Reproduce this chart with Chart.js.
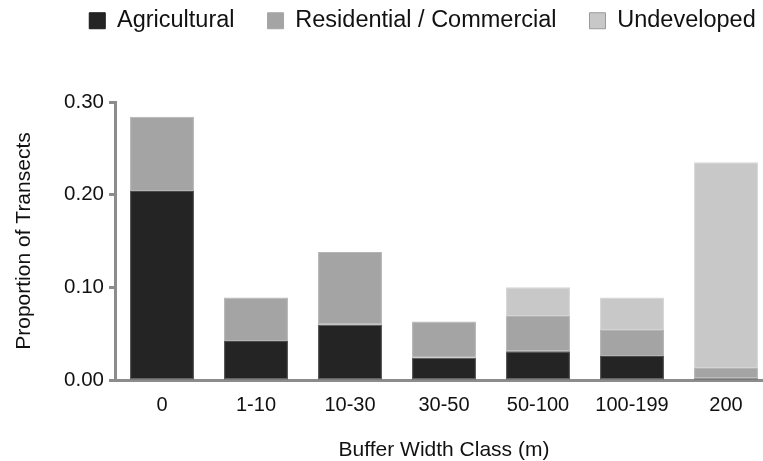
<!DOCTYPE html>
<html>
<head>
<meta charset="utf-8">
<script src="https://cdn.jsdelivr.net/npm/chart.js@4.4.1/dist/chart.umd.min.js"></script>
<style>
  html, body { margin: 0; padding: 0; background: #fff; overflow: hidden; width: 763px; height: 461px; }
  #wrap { width: 773px; height: 461px; }
  canvas { display: block; }
</style>
</head>
<body>
<div id="wrap"><canvas id="c" width="773" height="461"></canvas></div>
<script>
// Buffer width classes (m)
const categories = ['0', '1-10', '10-30', '30-50', '50-100', '100-199', '200'];

// Proportion of transects in each land-use class
const agricultural = [0.204, 0.042, 0.060, 0.024, 0.031, 0.026, 0.002];
const residentialCommercial = [0.080, 0.047, 0.078, 0.039, 0.038, 0.028, 0.011];
const undeveloped = [0.000, 0.000, 0.000, 0.000, 0.031, 0.035, 0.222];

const yTicks = [0.00, 0.10, 0.20, 0.30];

const FONT = "'Liberation Sans', Arial, Helvetica, sans-serif";
const AXIS_GREY = '#8c8c8c';
const TEXT = '#111111';

// Places the legend row near the top of the figure and reserves the space above the plot
const legendPlacement = {
  id: 'legendPlacement',
  beforeInit(chart) {
    const legend = chart.legend;
    const fit = legend.fit;
    legend.fit = function () {
      fit.call(this);
      this.height = 102;
    };
  },
  afterLayout(chart) {
    const legend = chart.legend;
    const dx = 36, dy = -24;
    legend.left += dx; legend.right += dx;
    legend.top += dy; legend.bottom += dy;
  }
};

new Chart(document.getElementById('c'), {
  type: 'bar',
  data: {
    labels: categories,
    datasets: [
      {
        label: 'Agricultural',
        data: agricultural,
        backgroundColor: '#242424',
        borderColor: '#4a4a4a',
        borderWidth: 1,
        borderSkipped: false
      },
      {
        label: 'Residential / Commercial',
        data: residentialCommercial,
        backgroundColor: '#a4a4a4',
        borderColor: '#b4b4b4',
        borderWidth: 1,
        borderSkipped: false
      },
      {
        label: 'Undeveloped',
        data: undeveloped,
        backgroundColor: '#c8c8c8',
        borderColor: '#d4d4d4',
        borderWidth: 1,
        borderSkipped: false
      }
    ]
  },
  options: {
    responsive: false,
    animation: false,
    devicePixelRatio: 1,
    layout: { padding: 0 },
    datasets: {
      bar: { barPercentage: 0.68, categoryPercentage: 1.0 }
    },
    plugins: {
      tooltip: { enabled: false },
      legend: {
        position: 'top',
        align: 'center',
        labels: {
          boxWidth: 16,
          boxHeight: 16,
          padding: 33,
          color: TEXT,
          font: { family: FONT, size: 23.5 },
          generateLabels(chart) {
            const items = Chart.defaults.plugins.legend.labels.generateLabels(chart);
            const strokes = ['#1a1a1a', '#a4a4a4', '#9a9a9a'];
            items.forEach((it, i) => { it.strokeStyle = strokes[i]; it.lineWidth = 1; });
            return items;
          }
        }
      }
    },
    scales: {
      x: {
        stacked: true,
        grid: { display: false, drawTicks: false },
        border: { display: true, color: AXIS_GREY, width: 3 },
        ticks: {
          color: TEXT,
          font: { family: FONT, size: 20 },
          padding: 13,
          maxRotation: 0,
          autoSkip: false
        },
        title: {
          display: true,
          text: 'Buffer Width Class (m)',
          color: TEXT,
          font: { family: FONT, size: 21, lineHeight: 1.0 },
          padding: { top: 0, bottom: 0 }
        },
        afterFit(scale) { scale.height = 81; }
      },
      y: {
        stacked: true,
        min: 0,
        max: 0.30,
        afterBuildTicks(scale) {
          scale.ticks = yTicks.map(v => ({ value: v }));
        },
        grid: {
          display: true,
          drawOnChartArea: false,
          drawTicks: true,
          tickLength: 6,
          tickWidth: 3,
          tickColor: AXIS_GREY
        },
        border: { display: true, color: AXIS_GREY, width: 3 },
        ticks: {
          color: TEXT,
          font: { family: FONT, size: 20.5 },
          padding: 5,
          callback: v => Number(v).toFixed(2)
        },
        title: {
          display: true,
          text: 'Proportion of Transects',
          color: TEXT,
          font: { family: FONT, size: 21 },
          padding: { top: 12, bottom: 0 }
        },
        afterFit(scale) { scale.width = 115; }
      }
    }
  },
  plugins: [legendPlacement]
});
</script>
</body>
</html>
